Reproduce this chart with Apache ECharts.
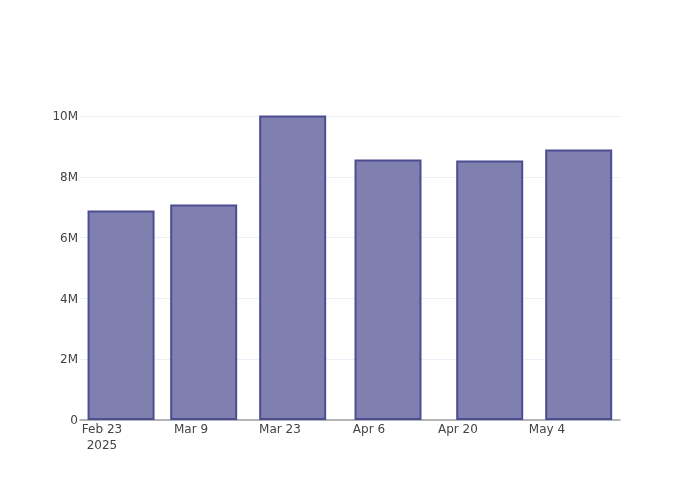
<!DOCTYPE html>
<html>
<head>
<meta charset="utf-8">
<script src="https://cdn.jsdelivr.net/npm/echarts@6/dist/echarts.min.js"></script>
<style>html,body{margin:0;padding:0;background:#fff;}#c{width:700px;height:500px;}</style>
</head>
<body>
<div id="c"></div>
<script>
const dates = ['2025-02-26', '2025-03-11', '2025-03-25', '2025-04-09', '2025-04-25', '2025-05-09'];
const values = [6890000, 7090000, 10020000, 8570000, 8540000, 8900000];
const tickDates = ['2025-02-23', '2025-03-09', '2025-03-23', '2025-04-06', '2025-04-20', '2025-05-04'];
const tickLabels = ['Feb 23\n2025', 'Mar 9', 'Mar 23', 'Apr 6', 'Apr 20', 'May 4'];
const xRange = ['2025-02-19T13:00:00', '2025-05-15T12:00:00'];

const ts = s => new Date(s.length === 10 ? s + 'T00:00:00' : s).getTime();
const tickTs = tickDates.map(ts);
const labelMap = {};
tickTs.forEach((t, i) => { labelMap[t] = tickLabels[i]; });

const chart = echarts.init(document.getElementById('c'), null, {renderer: 'canvas'});
chart.setOption({
  animation: false,
  backgroundColor: '#fff',
  grid: {left: 80, right: 80, top: 116, bottom: 80, containLabel: false},
  xAxis: {
    type: 'value',
    min: ts(xRange[0]),
    max: ts(xRange[1]),
    axisLine: {show: true, lineStyle: {color: '#a0a0a0', width: 1.5}},
    axisTick: {show: false},
    splitLine: {show: false},
    axisLabel: {
      customValues: tickTs,
      formatter: v => labelMap[v] || '',
      color: '#444',
      fontFamily: 'DejaVu Sans',
      fontSize: 12,
      margin: 2,
      lineHeight: 16,
      hideOverlap: false
    }
  },
  yAxis: {
    type: 'value',
    min: 0,
    max: 10000000,
    interval: 2000000,
    axisLine: {show: false},
    axisTick: {show: false},
    splitLine: {show: true, lineStyle: {color: '#ebf0f8', width: 1}},
    axisLabel: {
      formatter: v => v === 0 ? '0' : (v / 1000000) + 'M',
      color: '#444',
      fontFamily: 'DejaVu Sans',
      fontSize: 12,
      margin: 2,
      verticalAlign: 'top',
      padding: [-5, 0, 0, 0]
    }
  },
  series: [{
    type: 'bar',
    data: dates.map((d, i) => [ts(d), values[i]]),
    barWidth: 67,
    itemStyle: {color: '#7f7fb0', borderColor: '#4d4d91', borderWidth: 2}
  }]
});
</script>
</body>
</html>
